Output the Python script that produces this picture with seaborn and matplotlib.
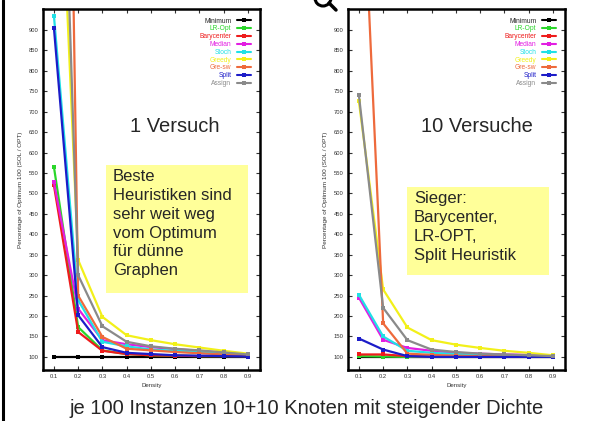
import numpy as np
import pandas as pd
import matplotlib
matplotlib.use("Agg")
import matplotlib.pyplot as plt
import seaborn as sns
from matplotlib.lines import Line2D
from matplotlib.patches import Rectangle, Arc

sns.set_style("ticks")
plt.rcParams['font.family'] = ['Liberation Sans', 'DejaVu Sans']

# ---------- data ----------
density = [0.1, 0.2, 0.3, 0.4, 0.5, 0.6, 0.7, 0.8, 0.9]
heuristics = ["Minimum", "LR-Opt", "Barycenter", "Median", "Stoch",
              "Greedy", "Gre-sw", "Split", "Assign"]
colors = ["#000000", "#2ad62a", "#ee1c1c", "#e21ee2", "#20e0e6",
          "#f2f01a", "#ee6a3c", "#1c1cc8", "#8a8a8a"]

# 1 Versuch
min_1 = [100, 100, 100, 100, 100, 100, 100, 100, 100]
lropt_1 = [565, 173, 116, 107, 104, 103, 102, 102, 102]
bary_1 = [520, 161, 115, 107, 104, 103, 102, 102, 102]
median_1 = [527, 218, 141, 131, 124, 119, 115, 110, 106]
stoch_1 = [935, 239, 137, 126, 118, 115, 112, 108, 105]
greedy_1 = [1700, 337, 198, 153, 141, 131, 123, 115, 108]
gresw_1 = [4000, 250, 149, 120, 116, 112, 109, 106, 104]
split_1 = [905, 202, 124, 110, 107, 104, 103, 102, 101]
assign_1 = [2100, 300, 175, 137, 126, 120, 116, 111, 106]

# 10 Versuche
min_10 = [100, 100, 100, 100, 100, 100, 100, 100, 100]
lropt_10 = [102, 101, 100, 100, 100, 100, 100, 100, 100]
bary_10 = [106, 106, 102, 101, 101, 100, 100, 100, 100]
median_10 = [245, 142, 122, 115, 110, 108, 106, 105, 104]
stoch_10 = [252, 150, 115, 110, 107, 105, 104, 103, 102]
greedy_10 = [725, 265, 172, 141, 130, 122, 115, 110, 104]
gresw_10 = [1500, 182, 108, 105, 103, 102, 101, 101, 101]
split_10 = [145, 118, 102, 100, 100, 100, 100, 100, 100]
assign_10 = [740, 220, 141, 118, 112, 108, 106, 104, 102]

series_1 = [min_1, lropt_1, bary_1, median_1, stoch_1, greedy_1, gresw_1, split_1, assign_1]
series_10 = [min_10, lropt_10, bary_10, median_10, stoch_10, greedy_10, gresw_10, split_10, assign_10]

yticks = list(range(100, 901, 50))


def long_df(series):
    rows = []
    for name, vals in zip(heuristics, series):
        for d, v in zip(density, vals):
            rows.append({"Density": d, "value": v, "heuristic": name})
    return pd.DataFrame(rows)


def draw_panel(ax, series):
    df = long_df(series)
    sns.lineplot(data=df, x="Density", y="value", hue="heuristic",
                 hue_order=heuristics, palette=dict(zip(heuristics, colors)),
                 marker="s", markersize=3.2, markeredgewidth=0, linewidth=1.6,
                 legend=False, sort=False, ax=ax)
    ax.set_xlim(0.055, 0.95)
    ax.set_ylim(68, 951)
    ax.set_xticks(density)
    ax.set_xticklabels([f"{d:.1f}" for d in density])
    ax.set_yticks(yticks)
    ax.tick_params(direction="in", top=True, right=True, length=3, width=0.8,
                   labelsize=4.2, pad=3, colors="#333333")
    for sp in ax.spines.values():
        sp.set_visible(True)
        sp.set_linewidth(1.8)
        sp.set_color("black")
    ax.set_xlabel("Density", fontsize=4.4, labelpad=3, color="#333333")
    ax.set_ylabel("Percentage of Optimum 100 (SOL / OPT)", fontsize=4.6,
                  labelpad=4, color="#333333")
    handles = [Line2D([], [], color=c, marker="s", markersize=3, markeredgewidth=0,
                      linewidth=1.5) for c in colors]
    leg = ax.legend(handles, heuristics, loc="upper right", frameon=False,
                    markerfirst=False, fontsize=4.8, handlelength=2.2,
                    handletextpad=0.8, labelspacing=0.12, borderaxespad=0.9,
                    borderpad=0.4)
    for t, c in zip(leg.get_texts(), colors):
        t.set_color(c if c != "#000000" else "#222222")


fig = plt.figure(figsize=(6.07, 4.21), dpi=100)
W, H = 607, 421
ax1 = fig.add_axes([43 / W, 1 - 370 / H, 217 / W, 361 / H])
ax2 = fig.add_axes([348 / W, 1 - 370 / H, 217 / W, 361 / H])
draw_panel(ax1, series_1)
draw_panel(ax2, series_10)

# overlay for slide decorations
ov = fig.add_axes([0, 0, 1, 1], facecolor="none")
ov.set_xlim(0, W)
ov.set_ylim(H, 0)
ov.axis("off")

ov.plot([3, 3], [0, H], color="black", linewidth=2.2)
ov.add_patch(Arc((323, -2), 16, 16, theta1=0, theta2=180, linewidth=2.2, color="black"))
ov.plot([329, 336], [3, 10], color="black", linewidth=2.5)

ov.text(175, 127, "1 Versuch", fontsize=14.5, ha="center", va="center")
ov.text(477, 127, "10 Versuche", fontsize=14.5, ha="center", va="center")

ov.add_patch(Rectangle((106, 165), 142, 128, facecolor="#ffff99", edgecolor="none"))
ov.text(113, 169, "Beste\nHeuristiken sind\nsehr weit weg\nvom Optimum\nfür dünne\nGraphen",
        fontsize=12, ha="left", va="top", linespacing=1.32)

ov.add_patch(Rectangle((407, 187), 142, 88, facecolor="#ffff99", edgecolor="none"))
ov.text(414, 191, "Sieger:\nBarycenter,\nLR-OPT,\nSplit Heuristik",
        fontsize=12, ha="left", va="top", linespacing=1.32)

ov.text(307, 408, "je 100 Instanzen 10+10 Knoten mit steigender Dichte",
        fontsize=14.5, ha="center", va="center")

fig.savefig("out.png", dpi=100)
